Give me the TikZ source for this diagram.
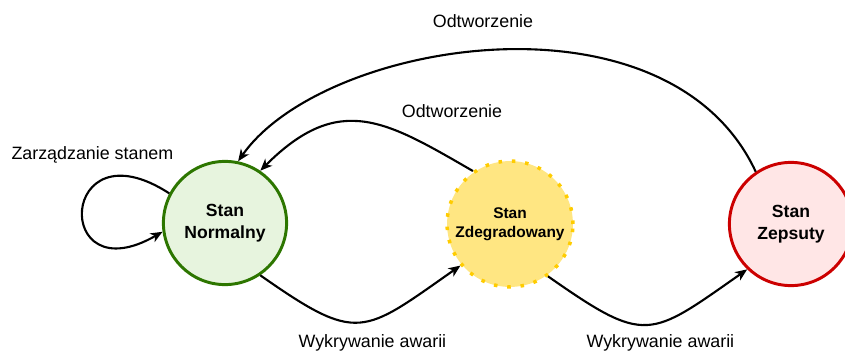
\documentclass[tikz,border=0pt]{standalone}
\usepackage{fontspec}
\setmainfont{Liberation Sans}
\usepackage{tikz}
\usetikzlibrary{arrows.meta}

\definecolor{zielonyBrzeg}{HTML}{2D7600}
\definecolor{zielonyTlo}{HTML}{E7F4DE}
\definecolor{zoltyBrzeg}{HTML}{FFCC00}
\definecolor{zoltyTlo}{HTML}{FFE682}
\definecolor{czerwonyBrzeg}{HTML}{CC0000}
\definecolor{czerwonyTlo}{HTML}{FFE6E6}

\begin{document}
\begin{tikzpicture}[
            every node/.style={font=\fontsize{12.7}{15}\selectfont},
            stan/.style={circle, minimum size=3.08cm, line width=2.1pt, align=center,
                font=\fontsize{12.5}{15.5}\selectfont\bfseries},
            etykieta/.style={anchor=base},
            przejscie/.style={-{Stealth[length=8.5pt, width=7pt, inset=2.5pt]}, line width=1.5pt}
        ]
        \useasboundingbox (0,0) rectangle (21.125,-8.8);

        \node[stan, draw=zielonyBrzeg, fill=zielonyTlo] (normalny) at (5.625,-5.575) {Stan\\Normalny};
        \node[stan, draw=zoltyBrzeg, fill=zoltyTlo, line width=2.5pt, dash pattern=on 2.5pt off 7pt,
            font=\fontsize{11}{13.5}\selectfont\bfseries] (zdegradowany) at (12.75,-5.6) {Stan\\Zdegradowany};
        \node[stan, draw=czerwonyBrzeg, fill=czerwonyTlo] (zepsuty) at (19.775,-5.6) {Stan\\Zepsuty};

        \node[etykieta] (zarzadzanie) at (2.31,-3.975) {Zarządzanie stanem};
        \node[etykieta] (odtworzenieGora) at (12.075,-0.675) {Odtworzenie};
        \node[etykieta] (odtworzenieSrodek) at (11.3,-2.925) {Odtworzenie};
        \node[etykieta] (wykrywanieLewo) at (9.31,-8.675) {Wykrywanie awarii};
        \node[etykieta] (wykrywaniePrawo) at (16.51,-8.675) {Wykrywanie awarii};

        \draw[przejscie] (normalny.152) .. controls +(147:3.3) and +(210:3.2) .. (normalny.188);
        \draw[przejscie] (normalny.-56) .. controls +(-35:3) and +(215:3) .. (zdegradowany.220);
        \draw[przejscie] (zdegradowany.-54) .. controls +(-35:3) and +(215:3) .. (zepsuty.226);
        \draw[przejscie] (zdegradowany.125) .. controls +(150:2.5) and +(45:2.8) .. (normalny.56);
        \draw[przejscie] (zepsuty.124) .. controls +(115:5.2) and +(55:3.7) .. (normalny.78);

    \end{tikzpicture}
\end{document}
